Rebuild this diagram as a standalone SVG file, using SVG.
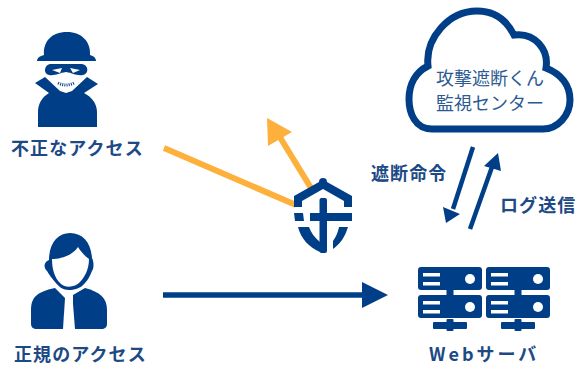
<svg xmlns="http://www.w3.org/2000/svg" width="577" height="366" viewBox="0 0 577 366">
<style>
.n{fill:#003f88}
.w{fill:#fff}
.t{font-family:"Noto Sans CJK JP","Noto Sans",sans-serif;font-weight:700;font-size:18px;letter-spacing:1.1px;fill:#1d4a85}
.c{font-family:"Noto Sans CJK JP","Noto Sans",sans-serif;font-weight:400;font-size:18px;letter-spacing:0;fill:#2d5a93}
.bl{stroke:#003f88;fill:none}
.or{stroke:#fdb03b;fill:none;stroke-width:6}
</style>
<rect width="577" height="366" fill="#fff"/>
<g id="connectors">
<path class="or" d="M164 148L296 205"/>
<path class="or" d="M311 188L278 134"/>
<path d="M267 118L292 132L268 146Z" fill="#fdb03b"/>
<path class="bl" stroke-width="5.500" d="M163 295H366"/>
<path class="n" d="M362 282L388 295L362 308Z"/>
<path class="bl" stroke-width="4.500" d="M473 147L453 209"/>
<path class="n" d="M443 207L460 214L446 223Z"/>
<path class="bl" stroke-width="4.500" d="M470 229L492 167"/>
<path class="n" d="M484 166L498 153L501 171Z"/>
</g>
<g id="villain">
<path class="n" d="M44 55C43 42 51 32 67 32C82 32 91 42 90 55C94 56 96 58 96 61H37C37 58 40 56 44 55Z"/>
<path class="n" d="M50 64H82C89 65 89 74 83 75C76 76 73 73 66 72C59 73 55 76 49 75C43 74 44 65 50 64Z"/>
<path class="w" d="M52 70L62 68L60 73ZM80 70L70 68L73 73Z"/>
<path class="n" d="M35 83L45 77L60 91L66 93L72 91L87 77L98 84L84 93C92 97 97 104 97 112V127H38V112C38 104 42 97 49 93Z"/>
<path d="M58 83Q66 87 74 83" fill="none" stroke="#003f88" stroke-width="3" stroke-dasharray="1 1.2"/>
</g>
<g id="user">
<path class="n" d="M49 260C49 243 58 233 70 233C83 233 91 243 92 258C94 262 94 268 92 271C90 276 88 280 85 283C80 289 74 290 69 290C63 290 59 287 55 282C52 278 49 275 47 271C43 267 44 262 49 260Z"/>
<path class="w" d="M52 259C60 259 72 256 78 247C81 252 86 257 89 259C89 270 84 278 80 282C75 288 64 288 60 283C55 278 52 270 52 259Z"/>
<path class="n" d="M31 310C31 298 36 292 55 288L65 298L63 329H37C33 329 31 327 31 324Z"/>
<path class="n" d="M107 310C107 298 100 292 85 288L73 295V304L75 329H101C105 329 107 327 107 324Z"/>
</g>
<g id="shield">
<path class="n" d="M294 196L319 182A4 4 0 0 1 327 182L352 196V207H344V201L323 189L302 201V207H294Z"/>
<rect class="n" x="319.500" y="198" width="7.500" height="55" rx="2"/>
<path class="n" d="M310 213H352V221H310ZM294 213H303L304 221H295Z"/>
<path class="n" d="M298 227H309C311 233 315 238 320 242V252C309 247 301 239 298 227Z"/>
<path class="n" d="M339 227H348C345 237 340 244 333 249V241C336 237 338 232 339 227Z"/>
</g>
<g id="cloud">
<path d="M432 129C415 129 409 113 409 99C409 84 416 72 428 66C425 38 449 11 477 11C495 11 507 21 514 35C535 32 549 50 546 68C561 74 570 85 570 100C570 115 558 129 543 129Z" class="w" stroke="#003f88" stroke-width="7"/>
<text class="c" x="436" y="85">攻撃遮断くん</text>
<text class="c" x="436" y="110">監視センター</text>
</g>
<g id="server">
<g id="s">
<rect class="n" x="418" y="267" width="64" height="23" rx="3"/>
<rect class="n" x="418" y="295" width="64" height="23" rx="3"/>
<rect class="n" x="446.500" y="290" width="7" height="6"/>
<rect class="n" x="433" y="322" width="34" height="7" rx="1"/>
<rect class="n" x="446.500" y="319" width="7" height="12" rx="1"/>
<path class="w" d="M423 273H440V276.500H423ZM423 282H440V285.500H423ZM423 301H440V304.500H423ZM423 310H440V313.500H423Z"/>
<circle class="w" cx="470" cy="279" r="5"/>
<circle class="w" cx="470" cy="307" r="5"/>
</g>
<use href="#s" x="68"/>
</g>
<g id="labels">
<text class="t" x="11" y="155">不正なアクセス</text>
<text class="t" x="14" y="361">正規のアクセス</text>
<text class="t" x="429" y="361" style="letter-spacing:3px">Webサーバ</text>
<text class="t" x="371" y="180">遮断命令</text>
<text class="t" x="500" y="212">ログ送信</text>
</g>
</svg>
